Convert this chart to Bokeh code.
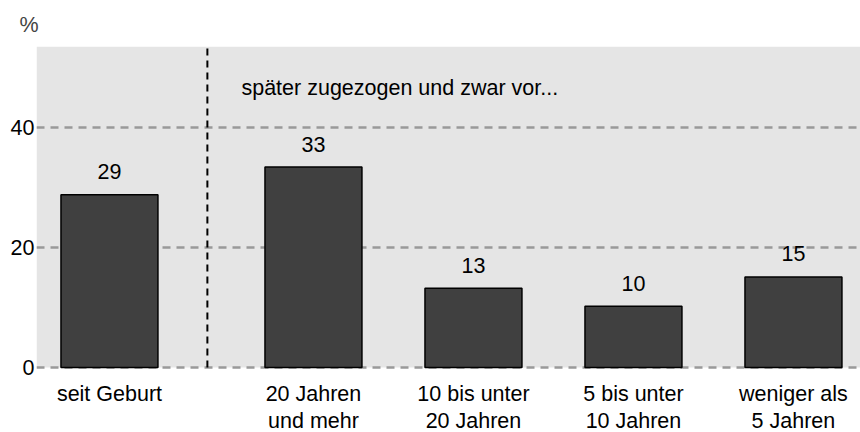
from bokeh.plotting import figure
from bokeh.models import Range1d, FixedTicker, Label, ColumnDataSource, BoxAnnotation
from bokeh.core.properties import value
from bokeh.embed import file_html
from bokeh.resources import INLINE

# ---- data ----
categories = ["seit Geburt", "20 Jahren\nund mehr", "10 bis unter\n20 Jahren",
              "5 bis unter\n10 Jahren", "weniger als\n5 Jahren"]
shares = [28.8, 33.4, 13.2, 10.2, 15.1]
value_labels = ["29", "33", "13", "10", "15"]
y_ticks = [0, 20, 40]
group_note = "später zugezogen und zwar vor..."
unit_label = "%"

# ---- layout helpers ----
group_gap = 0.275
x_pos = [i + (group_gap if i > 0 else 0) for i in range(len(categories))]
y_top = 53.5
y_bottom = -10.83   # room below zero for the category labels
FONT = "Liberation Sans"
FS = "21.5px"

src = ColumnDataSource(dict(x=x_pos, top=shares, lab=value_labels,
                            cat=categories, zero=[0] * len(categories)))

p = figure(width=860, height=432, output_backend="svg", toolbar_location=None,
           x_range=Range1d(-0.456, x_pos[-1] + 0.419), y_range=Range1d(y_bottom, y_top),
           min_border_left=36, min_border_right=0, min_border_top=46, min_border_bottom=0)
p.title.text = unit_label
p.title.text_font = FONT
p.title.text_font_size = FS
p.title.text_font_style = "normal"
p.title.align = "left"
p.title.offset = -17
p.title.standoff = 20

p.background_fill_color = "white"
p.border_fill_color = "white"
p.outline_line_color = None

# grey plotting area above zero
p.add_layout(BoxAnnotation(bottom=0, fill_color="#e5e5e5", fill_alpha=1,
                           line_color=None, level="image"))

# grid
p.xgrid.grid_line_color = None
p.ygrid.ticker = FixedTicker(ticks=y_ticks)
p.ygrid.grid_line_color = "#999999"
p.ygrid.grid_line_width = 2.5
p.ygrid.grid_line_dash = "8 6"
p.ygrid.level = "underlay"

# axes
p.yaxis.ticker = FixedTicker(ticks=y_ticks)
p.yaxis.axis_line_color = None
p.yaxis.major_tick_line_color = None
p.yaxis.minor_tick_line_color = None
p.yaxis.major_tick_out = 0
p.yaxis.major_label_standoff = 2
p.yaxis.major_label_text_font = FONT
p.yaxis.major_label_text_font_size = FS
p.yaxis.major_label_text_color = "black"
p.xaxis.visible = False

# bars
p.vbar(x="x", top="top", width=0.606, source=src,
       fill_color="#404040", line_color="black", line_width=1.5)

# value labels
p.text(x="x", y="top", text="lab", source=src, y_offset=-23,
       text_align="center", text_baseline="alphabetic",
       text_font=value(FONT), text_font_size=FS, text_color="black")

# category labels below the bars
p.text(x="x", y="zero", text="cat", source=src, y_offset=14,
       text_align="center", text_baseline="top", text_line_height=1.15,
       text_font=value(FONT), text_font_size=FS, text_color="black")

# separator between "seit Geburt" and the later-moved groups
sep = x_pos[0] + (x_pos[1] - x_pos[0]) * 0.48
p.segment(x0=[sep], y0=[0], x1=[sep], y1=[y_top], line_color="black",
          line_width=2, line_dash="7 5")

p.add_layout(Label(x=x_pos[1] - 0.45, y=46.6, text=group_note,
                   text_baseline="alphabetic", text_align="left",
                   text_font=FONT, text_font_size=FS, text_color="black"))

open("out.html", "w").write(file_html(p, INLINE))
